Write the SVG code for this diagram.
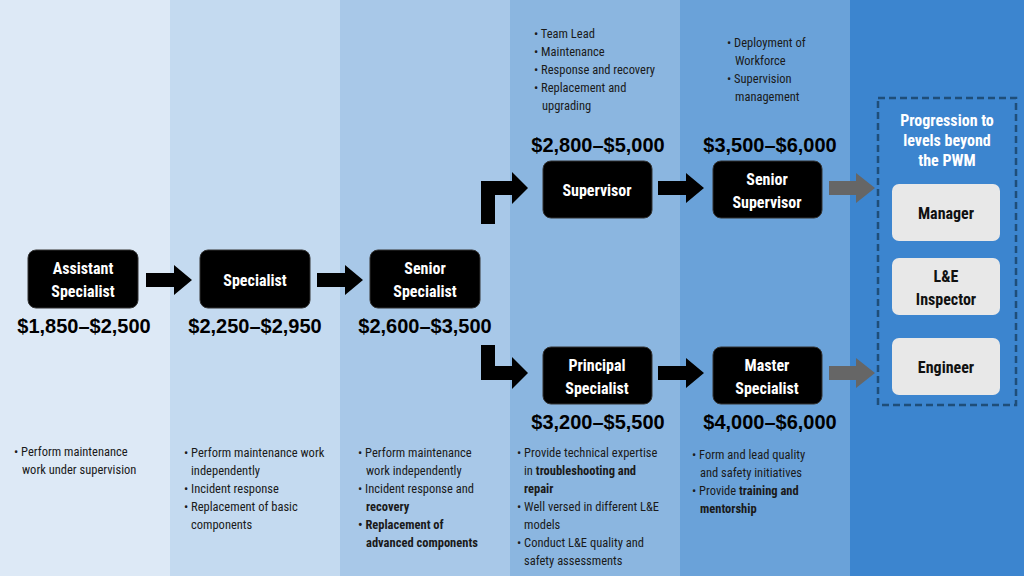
<svg xmlns="http://www.w3.org/2000/svg" width="1024" height="576" viewBox="0 0 1024 576">
<style>
.n{fill:#000;stroke:#333;stroke-width:1}
.nt{font-family:"Liberation Sans Narrow","Roboto Condensed","Liberation Sans",sans-serif;font-weight:bold;font-size:16px;fill:#fff;text-anchor:middle}
.gt{font-family:"Liberation Sans Narrow","Roboto Condensed","Liberation Sans",sans-serif;font-weight:bold;font-size:16px;fill:#111;text-anchor:middle}
.p{font-family:"Liberation Sans",Arial,sans-serif;font-weight:bold;font-size:20px;fill:#000;text-anchor:middle}
.b{font-family:"Liberation Sans Narrow","Roboto Condensed","Liberation Sans",sans-serif;font-size:12.5px;fill:#1a1a1a}
.bb{font-weight:bold}
.g{fill:#e8e8e8}
</style>
<rect x="0" y="0" width="170" height="576" fill="#dde9f6"/>
<rect x="170" y="0" width="170" height="576" fill="#c4daf0"/>
<rect x="340" y="0" width="170" height="576" fill="#a8c8e8"/>
<rect x="510" y="0" width="170" height="576" fill="#8bb6e0"/>
<rect x="680" y="0" width="170" height="576" fill="#6aa2d9"/>
<rect x="850" y="0" width="174" height="576" fill="#3c85cf"/>
<g id="connectors">
<polygon points="146,273 174,273 174,265 192,280 174,295 174,287 146,287" fill="#000"/>
<polygon points="317,273 345,273 345,265 363,280 345,295 345,287 317,287" fill="#000"/>
<polygon points="658,181 686,181 686,173 704,188 686,203 686,195 658,195" fill="#000"/>
<polygon points="658,366 686,366 686,358 704,373 686,388 686,380 658,380" fill="#000"/>
<polygon points="481,224 481,181 512,181 512,172 528,188 512,204 512,195 495,195 495,224" fill="#000"/>
<polygon points="481,345 495,345 495,366 512,366 512,357 528,373 512,389 512,380 481,380" fill="#000"/>
<polygon points="829,181 856,181 856,173 875,188 856,203 856,195 829,195" fill="#666"/>
<polygon points="829,366 856,366 856,358 875,373 856,388 856,380 829,380" fill="#666"/>
</g>
<g id="n1"><rect class="n" x="28" y="250" width="110" height="58" rx="8"/><text class="nt" x="83" y="274">Assistant</text><text class="nt" x="83" y="297">Specialist</text></g>
<g id="n2"><rect class="n" x="200" y="250" width="110" height="58" rx="8"/><text class="nt" x="255" y="286">Specialist</text></g>
<g id="n3"><rect class="n" x="370" y="250" width="110" height="58" rx="8"/><text class="nt" x="425" y="274">Senior</text><text class="nt" x="425" y="297">Specialist</text></g>
<g id="n4"><rect class="n" x="543" y="161" width="109" height="57" rx="8"/><text class="nt" x="597" y="196">Supervisor</text></g>
<g id="n5"><rect class="n" x="713" y="161" width="109" height="57" rx="8"/><text class="nt" x="767" y="185">Senior</text><text class="nt" x="767" y="208">Supervisor</text></g>
<g id="n6"><rect class="n" x="543" y="347" width="109" height="57" rx="8"/><text class="nt" x="597" y="371">Principal</text><text class="nt" x="597" y="394">Specialist</text></g>
<g id="n7"><rect class="n" x="713" y="347" width="109" height="57" rx="8"/><text class="nt" x="767" y="371">Master</text><text class="nt" x="767" y="394">Specialist</text></g>
<g id="beyond">
<rect x="878" y="98" width="138" height="307" fill="none" stroke="#1f4e79" stroke-width="2.5" stroke-dasharray="7,4"/>
<text class="nt" x="947" y="126" style="font-size:16px">Progression to</text>
<text class="nt" x="947" y="146" style="font-size:16px">levels beyond</text>
<text class="nt" x="947" y="166" style="font-size:16px">the PWM</text>
</g>
<g id="m1"><rect class="g" x="892" y="184" width="108" height="57" rx="7"/><text class="gt" x="946" y="219">Manager</text></g>
<g id="m2"><rect class="g" x="892" y="258" width="108" height="57" rx="7"/><text class="gt" x="946" y="282">L&amp;E</text><text class="gt" x="946" y="305">Inspector</text></g>
<g id="m3"><rect class="g" x="892" y="338" width="108" height="57" rx="7"/><text class="gt" x="946" y="373">Engineer</text></g>
<text class="p" x="84" y="333">$1,850–$2,500</text>
<text class="p" x="255" y="333">$2,250–$2,950</text>
<text class="p" x="425" y="333">$2,600–$3,500</text>
<text class="p" x="598" y="152">$2,800–$5,000</text>
<text class="p" x="770" y="152">$3,500–$6,000</text>
<text class="p" x="598" y="429">$3,200–$5,500</text>
<text class="p" x="770" y="429">$4,000–$6,000</text>
<g class="b">
<text x="14" y="456">• Perform maintenance</text><text x="22" y="474">work under supervision</text>
<text x="184" y="457">• Perform maintenance work</text><text x="191" y="475">independently</text>
<text x="184" y="493">• Incident response</text><text x="184" y="511">• Replacement of basic</text><text x="191" y="529">components</text>
<text x="358" y="457">• Perform maintenance</text><text x="366" y="475">work independently</text>
<text x="358" y="493">• Incident response and</text><text x="366" y="511" class="bb">recovery</text>
<text x="358" y="529" class="bb">• Replacement of</text><text x="366" y="547" class="bb">advanced components</text>
<text x="517" y="457">• Provide technical expertise</text><text x="524" y="475">in <tspan class="bb">troubleshooting and</tspan></text><text x="524" y="493" class="bb">repair</text>
<text x="517" y="511">• Well versed in different L&amp;E</text><text x="524" y="529">models</text>
<text x="517" y="547">• Conduct L&amp;E quality and</text><text x="524" y="565">safety assessments</text>
<text x="692" y="459">• Form and lead quality</text><text x="700" y="477">and safety initiatives</text>
<text x="692" y="495">• Provide <tspan class="bb">training and</tspan></text><text x="700" y="513" class="bb">mentorship</text>
<text x="534" y="38">• Team Lead</text><text x="534" y="56">• Maintenance</text><text x="534" y="74">• Response and recovery</text>
<text x="534" y="92">• Replacement and</text><text x="542" y="110">upgrading</text>
<text x="727" y="47">• Deployment of</text><text x="735" y="65">Workforce</text>
<text x="727" y="83">• Supervision</text><text x="735" y="101">management</text>
</g>
</svg>
